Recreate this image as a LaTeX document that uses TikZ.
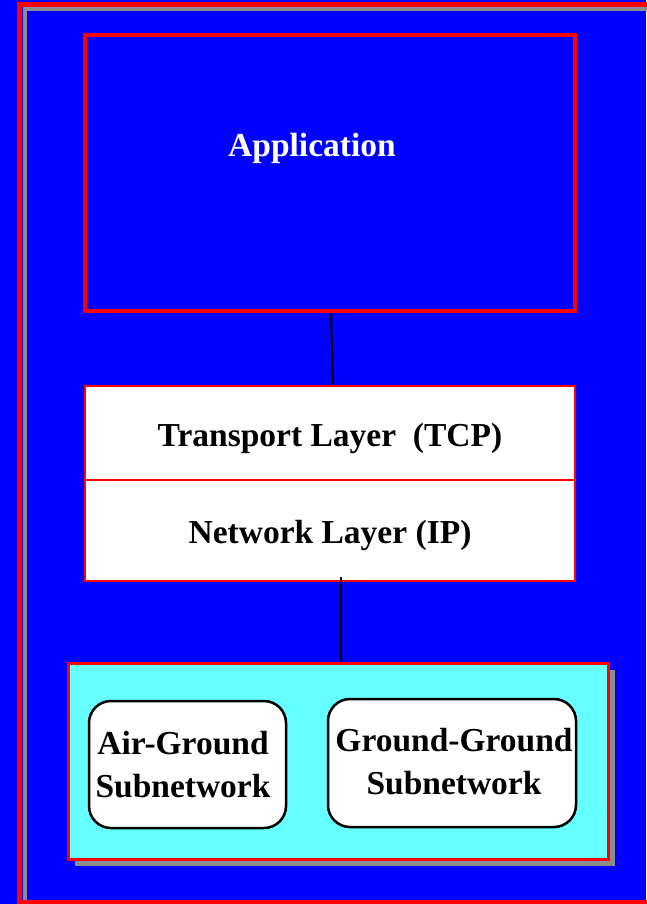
\documentclass[tikz,border=0pt]{standalone}
\usepackage{fontspec}
\setmainfont{Liberation Serif}
\usepackage{tikz}
\usetikzlibrary{shadows}
\definecolor{slideblue}{RGB}{0, 0, 255}
\definecolor{framered}{RGB}{255, 0, 0}
\definecolor{subcyan}{RGB}{102, 255, 255}
\definecolor{shadegray}{RGB}{140, 140, 140}

\begin{document}
\begin{tikzpicture}[x=1pt, y=-1pt,
    layerbox/.style={draw=framered, line width=2pt, fill=white, minimum width=490pt, text height=33pt, text depth=7pt, font=\fontsize{33.5}{43}\selectfont\bfseries},
    subbox/.style={draw=black, line width=2.5pt, fill=white, rounded corners=22pt},
    subtext/.style={align=center, inner sep=0pt, font=\fontsize{33.5}{43}\selectfont\bfseries},
    link/.style={draw=black, line width=2pt}]
  \useasboundingbox[fill=slideblue] (0,0) rectangle (646,904);

  % slide frame
  \draw[shadegray, line width=4pt] (25,9) rectangle (660,910);
  \draw[framered, line width=5pt] (19.5,4.5) rectangle (652,902.5);

  % application
  \node[draw=framered, line width=4pt, minimum width=490pt, minimum height=276pt] (app) at (330,173) {};
  \node[anchor=base, text=white, font=\fontsize{33.5}{43}\selectfont\bfseries] (applabel) at (312,157) {Application};

  % transport and network layers
  \node[layerbox, minimum height=94pt] (tl) at (330,433) {Transport Layer\ \ (TCP)};
  \node[layerbox, minimum height=101pt] (nl) at (330,530.5) {Network Layer (IP)};

  % subnetworks
  \node[draw=framered, line width=3pt, fill=subcyan, minimum width=540pt, minimum height=196pt,
        copy shadow={shadow xshift=6pt, shadow yshift=-6pt, fill=shadegray, draw=none}] (sub) at (338.5,761.5) {};
  \node[subbox, minimum width=197pt, minimum height=127pt] (air) at (187.5,764.5) {};
  \node[subtext] (airlabel) at (183,764.5) {Air-Ground\\Subnetwork};
  \node[subbox, minimum width=248pt, minimum height=128pt] (ground) at (452,763) {};
  \node[subtext] (groundlabel) at (454,762) {Ground-Ground\\Subnetwork};

  \draw[link] ([xshift=1pt]app.south) -- ([xshift=3pt]tl.north);
  \draw[link] ([xshift=11pt,yshift=5pt]nl.south) -- ([xshift=2.5pt]sub.north);
\end{tikzpicture}
\end{document}
